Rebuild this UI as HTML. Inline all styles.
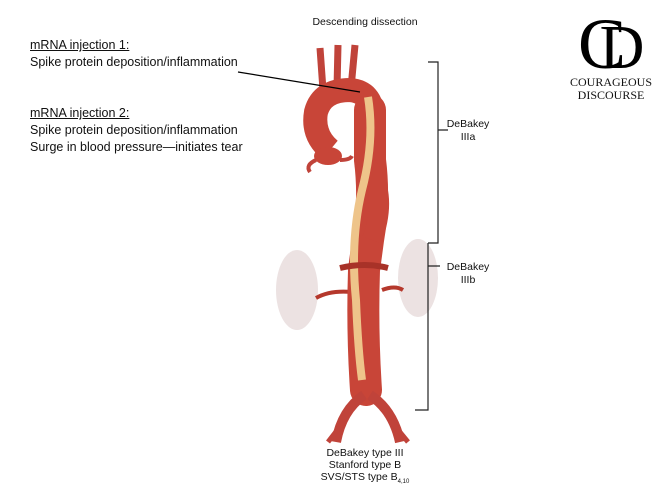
<!DOCTYPE html>
<html><head><style>
body{margin:0;background:#fff;width:660px;height:495px;overflow:hidden;position:relative;font-family:"Liberation Sans",sans-serif}
.t{position:absolute;font-size:12.5px;color:#111;line-height:17px}
.s{position:absolute;font-size:10.5px;color:#111;text-align:center;line-height:13px}
u{text-decoration:underline}
</style></head><body>
<div class="t" style="left:30px;top:37px"><u>mRNA injection 1:</u><br>Spike protein deposition/inflammation</div>
<div class="t" style="left:30px;top:105px"><u>mRNA injection 2:</u><br>Spike protein deposition/inflammation<br>Surge in blood pressure—initiates tear</div>
<div class="s" style="left:290px;top:16px;width:150px">Descending dissection</div>
<div class="s" style="left:440px;top:118px;width:56px">DeBakey<br>IIIa</div>
<div class="s" style="left:440px;top:261px;width:56px">DeBakey<br>IIIb</div>
<div class="s" style="left:290px;top:447px;width:150px;line-height:12px">DeBakey type III<br>Stanford type B<br>SVS/STS type B<sub style="font-size:6px">4,10</sub></div>
<svg width="660" height="495" style="position:absolute;left:0;top:0">
<ellipse cx="297" cy="290" rx="21" ry="40" fill="#ece2e2"/>
<ellipse cx="418" cy="278" rx="20" ry="39" fill="#ece2e2"/>
<path d="M316 298 Q330 290 352 292 M382 290 Q395 285 403 290" stroke="#b5382c" stroke-width="4" fill="none"/>
<path d="M323 90 L320 48 M337 88 L338 45 M351 88 L355 45" stroke="#c0433a" stroke-width="7" fill="none"/>
<!-- arch -->
<path d="M330 150 Q312 135 316 112 Q322 90 350 90 Q372 92 372 115" stroke="#c84538" stroke-width="24" fill="none"/>
<ellipse cx="328" cy="156" rx="14" ry="9" fill="#c84538"/>
<path d="M316 160 Q305 165 310 172 M340 160 Q350 160 352 156" stroke="#c0433a" stroke-width="4" fill="none"/>
<!-- descending -->
<path d="M370 110 L370 160 Q375 200 368 240 L364 270 Q362 330 366 390" stroke="#c84538" stroke-width="32" fill="none" stroke-linecap="round"/>
<path d="M362 160 Q390 190 372 240" stroke="#c84538" stroke-width="20" fill="none"/>
<path d="M364 395 Q342 410 336 442 M370 395 Q393 410 400 442" stroke="#c0433a" stroke-width="10" fill="none"/>
<path d="M345 420 L328 442 M390 420 L408 442" stroke="#c0433a" stroke-width="5" fill="none"/>
<!-- false lumen -->
<path d="M368 97 Q375 140 362 190 Q350 240 356 300 Q358 350 362 380" stroke="#eec48a" stroke-width="8" fill="none"/>
<path d="M340 268 Q365 262 388 268" stroke="#a83228" stroke-width="6" fill="none"/>
<line x1="238" y1="72" x2="360" y2="92" stroke="#000" stroke-width="1.2"/>
<path d="M428 62 H438 V243 H428 M438 130 H448" stroke="#222" stroke-width="1.2" fill="none"/>
<path d="M428 243 V410 H415 M428 266 H440" stroke="#222" stroke-width="1.2" fill="none"/>
<text x="602" y="68" font-family="Liberation Serif,serif" font-size="72" text-anchor="middle" fill="#000">C</text>
<text x="622" y="68" font-family="Liberation Serif,serif" font-size="62" text-anchor="middle" fill="#000">D</text>
<text x="611" y="86" font-family="Liberation Serif,serif" font-size="12" text-anchor="middle" fill="#111">COURAGEOUS</text>
<text x="611" y="99" font-family="Liberation Serif,serif" font-size="12" text-anchor="middle" fill="#111">DISCOURSE</text>
</svg>
</body></html>
